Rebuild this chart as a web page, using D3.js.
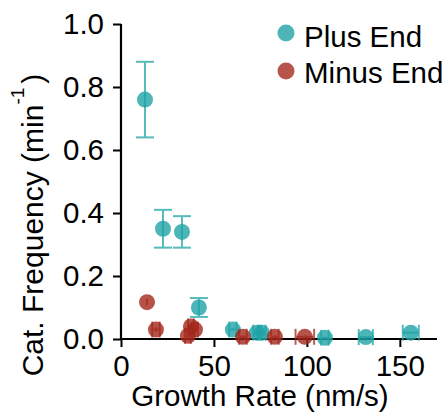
<!DOCTYPE html>
<html>
<head>
<meta charset="utf-8">
<script src="https://cdn.jsdelivr.net/npm/d3@7"></script>
<style>
  body { margin: 0; background: white; }
  text { font-family: "Liberation Sans", Arial, sans-serif; }
</style>
</head>
<body>
<svg id="chart" width="446" height="417"></svg>
<script>
// plus end (teal)
let plusX = [12.9, 22.6, 32.8, 41.9, 60.2, 73.1, 75.8, 109.7, 131.7, 155.9]
let plusY = [0.76, 0.35, 0.34, 0.10, 0.03, 0.02, 0.02, 0.004, 0.006, 0.02]
let plusYErr = [0.12, 0.06, 0.05, 0.03, 0.005, 0.005, 0.005, 0.003, 0.003, 0.004]
let plusXErr = [0, 0, 0, 0, 2, 2, 2, 2, 3.8, 4.3]

// minus end (red)
let minusX = [14.0, 18.8, 36.0, 37.6, 39.8, 65.6, 82.8, 98.9]
let minusY = [0.117, 0.03, 0.01, 0.04, 0.03, 0.007, 0.007, 0.007]
let minusYErr = [0.01, 0.008, 0.01, 0.01, 0.01, 0.005, 0.005, 0.005]
let minusXErr = [0, 2, 1.5, 1.5, 1.5, 2, 2, 5]

let xTicks = [0, 50, 100, 150]
let yTicks = [0, 0.2, 0.4, 0.6, 0.8, 1.0]

let svg = d3.select("#chart")

let x = d3.scaleLinear().domain([0, 170]).range([121, 437])
let y = d3.scaleLinear().domain([0, 1]).range([339, 24])

let teal = "#1fa3a5"
let red = "#a3281b"
let fontSize = "29.5px"

let xAxis = svg.append("g")
    .attr("transform", "translate(0," + 339 + ")")
    .call(d3.axisBottom(x).tickValues(xTicks).tickSize(8).tickPadding(8).tickFormat(d3.format("d")))
let yAxis = svg.append("g")
    .attr("transform", "translate(" + 121 + ",0)")
    .call(d3.axisLeft(y).tickValues(yTicks).tickSize(8).tickPadding(9).tickFormat(d3.format(".1f")))

for (let ax of [xAxis, yAxis]) {
    ax.select(".domain").attr("stroke", "black").attr("stroke-width", 2.2)
    ax.selectAll(".tick line").attr("stroke", "black").attr("stroke-width", 2)
    ax.selectAll(".tick text")
        .attr("font-family", "Liberation Sans, Arial, sans-serif")
        .attr("font-size", fontSize)
        .attr("fill", "black")
}
// redraw domains without outer ticks
xAxis.select(".domain").attr("d", "M121,0H437")
yAxis.select(".domain").attr("d", "M0,24V339")

function drawSeries(xs, ys, yerr, xerr, color) {
    let g = svg.append("g")
    xs.forEach(function(d, i){
        let cx = x(d), cy = y(ys[i])
        let eg = g.append("g")
            .attr("stroke", color)
            .attr("stroke-width", 2)
            .attr("opacity", 0.75)
        if (yerr[i] > 0) {
            let y0 = y(ys[i] - yerr[i]), y1 = y(ys[i] + yerr[i])
            eg.append("line").attr("x1", cx).attr("x2", cx).attr("y1", y0).attr("y2", y1)
            if (yerr[i] > 0.02) {
                eg.append("line").attr("x1", cx - 9).attr("x2", cx + 9).attr("y1", y0).attr("y2", y0)
                eg.append("line").attr("x1", cx - 9).attr("x2", cx + 9).attr("y1", y1).attr("y2", y1)
            }
        }
        if (xerr[i] > 0) {
            let x0 = x(d - xerr[i]), x1 = x(d + xerr[i])
            eg.append("line").attr("x1", x0).attr("x2", x1).attr("y1", cy).attr("y2", cy)
            eg.append("line").attr("x1", x0).attr("x2", x0).attr("y1", cy - 8).attr("y2", cy + 8)
            eg.append("line").attr("x1", x1).attr("x2", x1).attr("y1", cy - 8).attr("y2", cy + 8)
        }
        g.append("circle")
            .attr("cx", cx)
            .attr("cy", cy)
            .attr("r", 8)
            .attr("fill", color)
            .attr("opacity", 0.8)
    })
}

drawSeries(plusX, plusY, plusYErr, plusXErr, teal)
drawSeries(minusX, minusY, minusYErr, minusXErr, red)

// legend
let legend = [["Plus End", "#4db5b7", 33, 47], ["Minus End", "#b5554b", 71, 83]]
legend.forEach(function(l){
    svg.append("circle").attr("cx", 286).attr("cy", l[2]).attr("r", 8.5).attr("fill", l[1])
    svg.append("text")
        .attr("x", 304)
        .attr("y", l[3])
        .attr("font-size", fontSize)
        .attr("fill", "black")
        .text(l[0])
})

// axis titles
svg.append("text")
    .attr("x", 260)
    .attr("y", 406)
    .attr("text-anchor", "middle")
    .attr("font-size", fontSize)
    .attr("fill", "black")
    .text("Growth Rate (nm/s)")

let yt = svg.append("text")
    .attr("transform", "translate(43,225) rotate(-90)")
    .attr("text-anchor", "middle")
    .attr("font-size", "30px")
    .attr("fill", "black")
yt.append("tspan").text("Cat. Frequency (min")
yt.append("tspan").attr("font-size", "19px").attr("dy", -19).text("-1")
yt.append("tspan").attr("dy", 19).attr("dx", 4).text(")")
</script>
</body>
</html>
